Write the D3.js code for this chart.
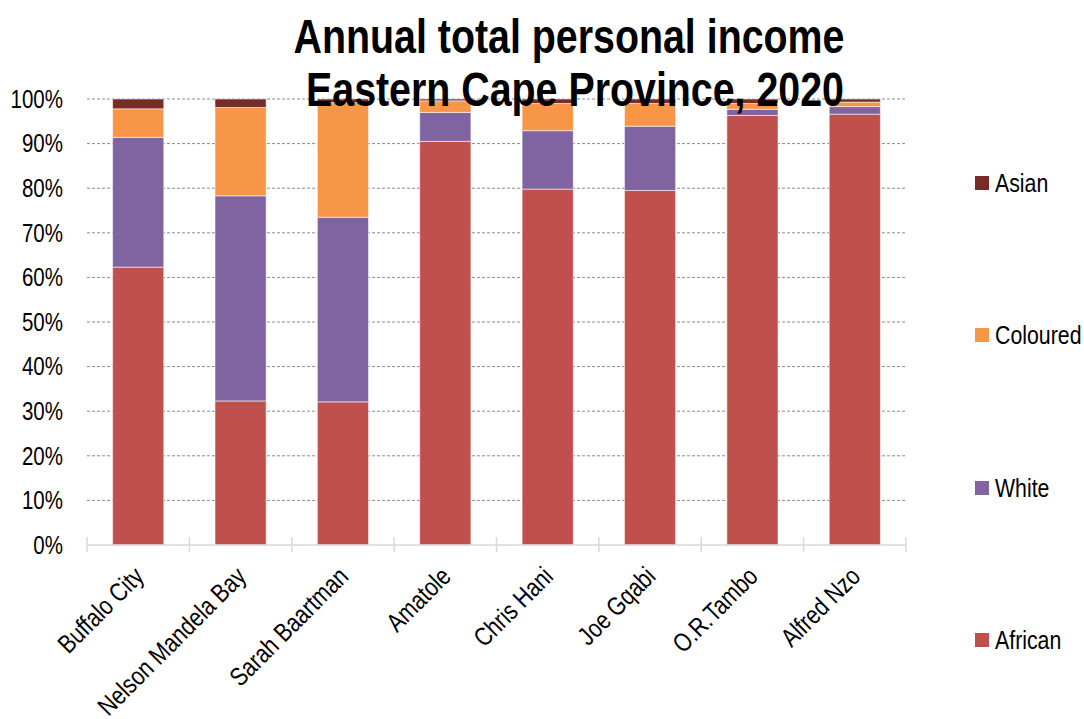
<!DOCTYPE html>
<html>
<head>
<meta charset="utf-8">
<script src="https://cdn.jsdelivr.net/npm/d3@7"></script>
<style>
  body { margin: 0; background: #fff; }
  svg text { font-family: "Liberation Sans", Arial, sans-serif; fill: #000; }
</style>
</head>
<body>
<div id="chart"></div>
<script>
// data (percent of annual total personal income)
var districts = ["Buffalo City", "Nelson Mandela Bay", "Sarah Baartman", "Amatole", "Chris Hani", "Joe Gqabi", "O.R.Tambo", "Alfred Nzo"];
var african  = [62.3, 32.3, 32.1, 90.5, 79.8, 79.5, 96.3, 96.6];
var white    = [29.1, 46.0, 41.4, 6.5, 13.1, 14.4, 1.4, 1.7];
var coloured = [6.4, 19.8, 25.7, 2.6, 6.1, 5.1, 1.3, 1.0];
var asian    = [2.2, 1.9, 0.8, 0.4, 1.0, 1.0, 1.0, 0.7];
var groups = ["African", "White", "Coloured", "Asian"];
var groupColors = ["#C0504D", "#8064A2", "#F79646", "#772C2A"];
var yTicks = [0, 10, 20, 30, 40, 50, 60, 70, 80, 90, 100];
var titleLines = ["Annual total personal income", "Eastern Cape Province, 2020"];

var width = 1084, height = 719;
var margin = {left: 87, right: 178, top: 99, bottom: 174};
var narrow = " scale(0.82,1)";   // no Arial Narrow here, so squeeze Liberation Sans

var svg = d3.select("#chart").append("svg")
    .attr("width", width)
    .attr("height", height);

var rows = districts.map(function(d, i) {
    return {district: d, African: african[i], White: white[i], Coloured: coloured[i], Asian: asian[i]};
});

var x = d3.scaleBand()
    .domain(districts)
    .range([margin.left, width - margin.right])
    .paddingInner(0.5)
    .paddingOuter(0.25);

var y = d3.scaleLinear()
    .domain([0, 100])
    .range([height - margin.bottom, margin.top]);

var color = d3.scaleOrdinal().domain(groups).range(groupColors);

// gridlines
svg.append("g").selectAll("line")
    .data(yTicks.filter(function(t) { return t > 0; }))
    .enter().append("line")
    .attr("x1", margin.left)
    .attr("x2", width - margin.right)
    .attr("y1", function(d) { return y(d); })
    .attr("y2", function(d) { return y(d); })
    .attr("stroke", "#8c8c8c")
    .attr("stroke-width", 1)
    .attr("stroke-dasharray", "3,2");

// stacked bars
var stack = d3.stack().keys(groups);
var series = stack(rows);

svg.append("g").selectAll("g")
    .data(series)
    .enter().append("g")
    .attr("fill", function(d) { return color(d.key); })
    .selectAll("rect")
    .data(function(d) { return d; })
    .enter().append("rect")
    .attr("x", function(d) { return x(d.data.district); })
    .attr("width", x.bandwidth())
    .attr("y", function(d) { return y(d[1]); })
    .attr("height", function(d) { return y(d[0]) - y(d[1]); })
    .attr("stroke", "#fff")
    .attr("stroke-opacity", 0.55)
    .attr("stroke-width", 1);

// x axis line + ticks at band boundaries
var x0 = height - margin.bottom;
svg.append("line")
    .attr("x1", margin.left).attr("x2", width - margin.right)
    .attr("y1", x0).attr("y2", x0)
    .attr("stroke", "#d9d9d9").attr("stroke-width", 1.5);

var step = x.step();
svg.append("g").selectAll("line")
    .data(d3.range(districts.length + 1))
    .enter().append("line")
    .attr("x1", function(i) { return margin.left + i * step; })
    .attr("x2", function(i) { return margin.left + i * step; })
    .attr("y1", x0 - 8)
    .attr("y2", x0 + 7)
    .attr("stroke", "#d9d9d9").attr("stroke-width", 1.5);

// y tick labels
svg.append("g").selectAll("text")
    .data(yTicks)
    .enter().append("text")
    .attr("transform", function(d) { return "translate(63," + y(d) + ")" + narrow; })
    .attr("dy", "0.35em")
    .attr("text-anchor", "end")
    .attr("font-size", "25px")
    .text(function(d) { return d + "%"; });

// category labels, rotated
svg.append("g").selectAll("text")
    .data(districts)
    .enter().append("text")
    .attr("text-anchor", "end")
    .attr("font-size", "26px")
    .attr("transform", function(d) {
        return "translate(" + (x(d) + x.bandwidth() / 2 + 7) + "," + (x0 + 33) + ") rotate(-45)" + narrow;
    })
    .text(function(d) { return d; });

// legend (Asian at top, African at bottom)
var legendY = [183, 335, 488, 640];
var legend = svg.append("g").selectAll("g")
    .data(groups.slice().reverse())
    .enter().append("g")
    .attr("transform", function(d, i) { return "translate(975," + legendY[i] + ")"; });

legend.append("rect")
    .attr("x", 0).attr("y", -7)
    .attr("width", 14).attr("height", 14)
    .attr("fill", function(d) { return color(d); });

legend.append("text")
    .attr("transform", "translate(20,0)" + narrow)
    .attr("dy", "0.35em")
    .attr("font-size", "26px")
    .text(function(d) { return d; });

// title
var titleX = [569, 575];
svg.append("g").selectAll("text")
    .data(titleLines)
    .enter().append("text")
    .attr("transform", function(d, i) { return "translate(" + titleX[i] + "," + (53 + i * 53) + ")" + narrow; })
    .attr("text-anchor", "middle")
    .attr("font-size", "48px")
    .attr("font-weight", "bold")
    .text(function(d) { return d; });
</script>
</body>
</html>
